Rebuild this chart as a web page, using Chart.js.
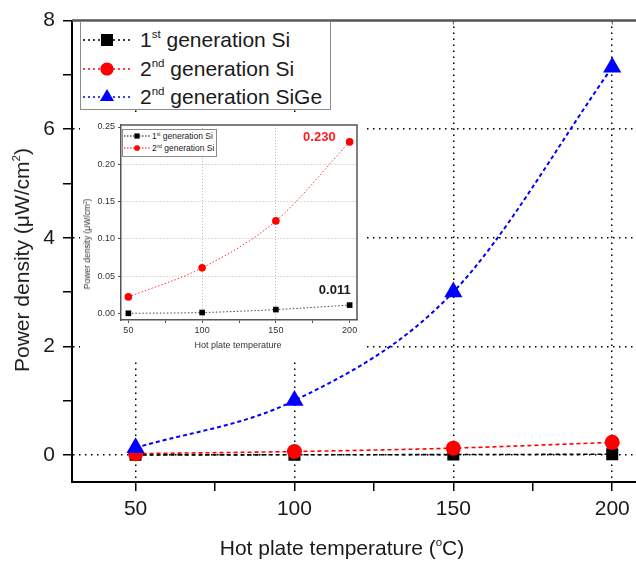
<!DOCTYPE html>
<html>
<head>
<meta charset="utf-8">
<script src="https://cdn.jsdelivr.net/npm/chart.js@4.4.1/dist/chart.umd.min.js"></script>
<style>
  body { margin: 0; background: #fff; overflow: hidden; }
  #wrap { position: relative; width: 636px; height: 565px; overflow: hidden;
          font-family: Arial, "Liberation Sans", sans-serif; color: #1a1a1a; }
  #main { position: absolute; left: 0; top: 0; }
  #insetBox { position: absolute; left: 80px; top: 114px; width: 284px; height: 244px; background: #fff; }
  #inset { position: absolute; left: 0; top: 0; }
  .legend { position: absolute; background: #fff; border: 1px solid #8a8a8a; box-sizing: border-box; }
  .row { position: absolute; left: 0; white-space: nowrap; display: flex; align-items: center; }
  .row svg { flex: none; }
  sup { font-size: 0.55em; vertical-align: 0; position: relative; top: -0.75em; }
  .title { position: absolute; white-space: nowrap; transform: translate(-50%, -50%); }
</style>
</head>
<body>
<div id="wrap">
  <canvas id="main" width="660" height="565"></canvas>
  <div class="title" style="left:342px;top:548px;font-size:21px;">Hot plate temperature (<sup>o</sup>C)</div>
  <div class="title" style="left:22px;top:260px;font-size:21px;transform:translate(-50%,-50%) rotate(-90deg);">Power density (&mu;W/cm<sup>2</sup>)</div>
  <div id="legendMain" class="legend" style="left:80px;top:21px;width:251px;height:89px;"></div>
  <div id="insetBox">
    <canvas id="inset" width="284" height="244"></canvas>
    <div class="title" style="left:158px;top:231px;font-size:9px;color:#333;">Hot plate temperature</div>
    <div class="title" style="left:7px;top:130px;font-size:8.5px;color:#333;transform:translate(-50%,-50%) rotate(-90deg);">Power density (&mu;W/cm<sup>2</sup>)</div>
    <div id="legendInset" class="legend" style="left:42px;top:15px;width:95px;height:28px;"></div>
  </div>
</div>
<script>
// hot plate temperature (°C)
const temps = [50, 100, 150, 200];
// power density (µW/cm²)
const gen1Si = [0.000, 0.001, 0.005, 0.011];
const gen2Si = [0.022, 0.061, 0.124, 0.230];
const gen2SiGe = [0.13, 1.00, 3.00, 7.14];

const seriesNames = ["1<sup>st</sup> generation Si", "2<sup>nd</sup> generation Si", "2<sup>nd</sup> generation SiGe"];
const seriesColors = ["#000000", "#ff0000", "#0000ff"];
const seriesShapes = ["rect", "circle", "triangle"];

const xTicks = [50, 75, 100, 125, 150, 175, 200];
const mainYTicks = [0, 1, 2, 3, 4, 5, 6, 7, 8];
const insetYTicks = [0, 0.05, 0.10, 0.15, 0.20, 0.25];

const font = "Arial, 'Liberation Sans', sans-serif";

function toPoints(ys) {
    return temps.map((t, i) => ({ x: t, y: ys[i] }));
}

function setTicks(values) {
    return scale => { scale.ticks = values.map(v => ({ value: v })); };
}

// top (and right) frame lines that Chart.js doesn't draw on its own
const framePlugin = {
    id: "frame",
    afterDraw(chart, args, opts) {
        const { ctx, chartArea: a, scales } = chart;
        ctx.save();
        ctx.strokeStyle = opts.color;
        ctx.lineWidth = opts.width;
        ctx.beginPath();
        ctx.moveTo(a.left, a.top);
        ctx.lineTo(a.right, a.top);
        if (opts.right) {
            ctx.lineTo(a.right, a.bottom);
        }
        ctx.stroke();
        // small inward ticks on the top edge
        ctx.lineWidth = 1;
        opts.topTicks.forEach(v => {
            const x = scales.x.getPixelForValue(v);
            ctx.beginPath();
            ctx.moveTo(x, a.top);
            ctx.lineTo(x, a.top + opts.tickLen);
            ctx.stroke();
        });
        ctx.restore();
    }
};

// value labels next to the last points of the inset
const endLabelPlugin = {
    id: "endLabels",
    afterDatasetsDraw(chart, args, opts) {
        const ctx = chart.ctx;
        ctx.save();
        ctx.font = "bold 13px " + font;
        ctx.textAlign = "right";
        ctx.textBaseline = "middle";
        opts.items.forEach(it => {
            const meta = chart.getDatasetMeta(it.dataset);
            const pt = meta.data[meta.data.length - 1];
            const values = chart.data.datasets[it.dataset].data;
            ctx.fillStyle = it.color;
            ctx.fillText(values[values.length - 1].y.toFixed(3), pt.x + it.dx, pt.y + it.dy);
        });
        ctx.restore();
    }
};

const mainDatasets = [gen1Si, gen2Si, gen2SiGe].map((ys, i) => ({
    label: seriesNames[i],
    data: toPoints(ys),
    borderColor: seriesColors[i],
    backgroundColor: seriesColors[i],
    borderWidth: i === 2 ? 2 : 1.6,
    borderDash: [4, 3],
    pointStyle: seriesShapes[i],
    pointRadius: [8.5, 7.5, 10.5][i],
    pointBorderWidth: 0,
    cubicInterpolationMode: "monotone",
    order: 3 - i
}));

new Chart(document.getElementById("main"), {
    type: "line",
    data: { datasets: mainDatasets },
    options: {
        responsive: false,
        animation: false,
        layout: { padding: { left: 0, right: 16, top: 16, bottom: 0 } },
        plugins: {
            legend: { display: false },
            tooltip: { enabled: false },
            frame: { color: "#555", width: 2.5, right: false, topTicks: [50, 100, 150, 200], tickLen: 4 }
        },
        scales: {
            x: {
                type: "linear",
                min: 30,
                max: 210,
                afterBuildTicks: setTicks(xTicks),
                afterFit: s => { s.height = 83; },
                ticks: {
                    color: "#1a1a1a",
                    font: { family: font, size: 21 },
                    padding: 6,
                    maxRotation: 0,
                    autoSkip: false,
                    callback: v => (v % 50 === 0 ? v : "")
                },
                grid: {
                    color: c => (c.tick && c.tick.value % 50 === 0 ? "#000" : "rgba(0,0,0,0)"),
                    lineWidth: 1.5,
                    tickColor: "#000",
                    tickWidth: 1.5,
                    tickLength: 9
                },
                border: { color: "#000", width: 2, dash: [1.5, 4.5] }
            },
            y: {
                min: -0.5,
                max: 8,
                afterBuildTicks: setTicks(mainYTicks),
                afterFit: s => { s.width = 72; },
                ticks: {
                    color: "#1a1a1a",
                    font: { family: font, size: 21 },
                    padding: 8,
                    autoSkip: false,
                    callback: v => (v % 2 === 0 ? v : "")
                },
                grid: {
                    color: c => (c.tick && c.tick.value % 2 === 0 && c.tick.value < 8 ? "#000" : "rgba(0,0,0,0)"),
                    lineWidth: 1.5,
                    tickColor: "#000",
                    tickWidth: 1.5,
                    tickLength: 9
                },
                border: { color: "#000", width: 2, dash: [1.5, 4.5] }
            }
        }
    },
    plugins: [framePlugin]
});

// inset: only the two Si generations on a finer scale
const insetDatasets = [gen1Si, gen2Si].map((ys, i) => ({
    label: seriesNames[i],
    data: toPoints(ys),
    borderColor: i === 0 ? "#444" : "#ff3030",
    backgroundColor: seriesColors[i],
    borderWidth: 1,
    borderDash: [1.5, 2],
    pointStyle: seriesShapes[i],
    pointRadius: i === 0 ? 4 : 3.8,
    pointBorderWidth: 0,
    cubicInterpolationMode: "monotone"
}));

new Chart(document.getElementById("inset"), {
    type: "line",
    data: { datasets: insetDatasets },
    options: {
        responsive: false,
        animation: false,
        layout: { padding: { left: 0, right: 7, top: 11, bottom: 0 } },
        plugins: {
            legend: { display: false },
            tooltip: { enabled: false },
            frame: { color: "#555", width: 1.5, right: true, topTicks: [], tickLen: 0 },
            endLabels: {
                items: [
                    { dataset: 1, color: "#ff1a1a", dx: -14, dy: -4 },
                    { dataset: 0, color: "#1a1a1a", dx: 1, dy: -15 }
                ]
            }
        },
        scales: {
            x: {
                type: "linear",
                min: 45,
                max: 205,
                afterBuildTicks: setTicks(xTicks),
                afterFit: s => { s.height = 38; },
                ticks: {
                    color: "#333",
                    font: { family: font, size: 9 },
                    padding: 2,
                    maxRotation: 0,
                    autoSkip: false,
                    callback: v => (v % 50 === 0 ? v : "")
                },
                grid: {
                    color: c => (c.tick && (c.tick.value === 100 || c.tick.value === 150) ? "#bbb" : "rgba(0,0,0,0)"),
                    lineWidth: 1,
                    tickColor: "#555",
                    tickLength: 3
                },
                border: { color: "#555", width: 1.5, dash: [1, 2] }
            },
            y: {
                min: -0.009,
                max: 0.2527,
                afterBuildTicks: setTicks(insetYTicks),
                afterFit: s => { s.width = 41; },
                ticks: {
                    color: "#333",
                    font: { family: font, size: 9 },
                    padding: 3,
                    autoSkip: false,
                    callback: v => v.toFixed(2)
                },
                grid: {
                    color: c => (c.tick && c.tick.value > 0.01 && c.tick.value < 0.24 ? "#bbb" : "rgba(0,0,0,0)"),
                    lineWidth: 1,
                    tickColor: "#555",
                    tickLength: 3
                },
                border: { color: "#555", width: 1.5, dash: [1, 2] }
            }
        }
    },
    plugins: [framePlugin, endLabelPlugin]
});

// legend rows: dashed line sample with the marker in the middle
function markerSvg(i, w, h, r, dash, lw) {
    const c = seriesColors[i];
    const cx = w / 2, cy = h / 2;
    let shape;
    if (seriesShapes[i] === "rect") {
        shape = `<rect x="${cx - r}" y="${cy - r}" width="${2 * r}" height="${2 * r}" fill="${c}"/>`;
    } else if (seriesShapes[i] === "circle") {
        shape = `<circle cx="${cx}" cy="${cy}" r="${r * 1.1}" fill="${c}"/>`;
    } else {
        const s = r * 1.35;
        shape = `<polygon points="${cx},${cy - s} ${cx + s * 0.87},${cy + s * 0.5} ${cx - s * 0.87},${cy + s * 0.5}" fill="${c}"/>`;
    }
    return `<svg width="${w}" height="${h}"><line x1="0" y1="${cy}" x2="${w}" y2="${cy}" stroke="${c}" stroke-width="${lw}" stroke-dasharray="${dash}"/>${shape}</svg>`;
}

function buildLegend(id, count, rowTops, opts) {
    const box = document.getElementById(id);
    for (let i = 0; i < count; i++) {
        const row = document.createElement("div");
        row.className = "row";
        row.style.top = rowTops[i] + "px";
        row.style.left = opts.left + "px";
        row.style.fontSize = opts.fontSize + "px";
        row.innerHTML = markerSvg(i, opts.w, opts.h, opts.r, opts.dash, opts.lw) +
            `<span style="margin-left:${opts.gap}px">${seriesNames[i]}</span>`;
        box.appendChild(row);
    }
}

buildLegend("legendMain", 3, [6, 35, 63], { left: 2, fontSize: 21, w: 48, h: 24, r: 6, dash: "2 3", lw: 1.5, gap: 9 });
buildLegend("legendInset", 2, [1, 13], { left: 1, fontSize: 8.5, w: 26, h: 10, r: 2.6, dash: "1.5 1.5", lw: 1, gap: 2 });
</script>
</body>
</html>
